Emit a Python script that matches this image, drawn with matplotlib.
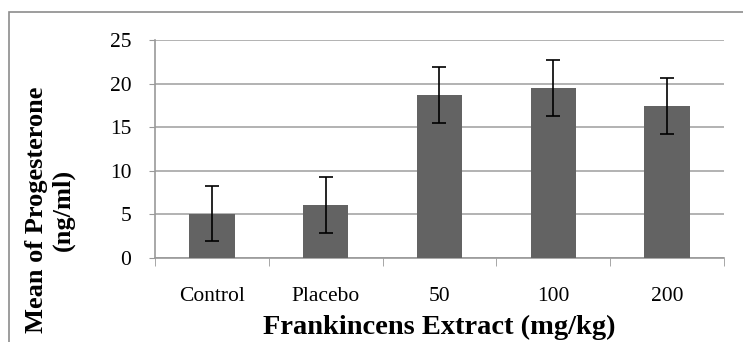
import matplotlib.pyplot as plt
from matplotlib.patches import Rectangle

plt.rcParams['font.family'] = ['Liberation Serif', 'DejaVu Serif']

groups = ["Control", "Placebo", "50", "100", "200"]
means = [5.1, 6.1, 18.7, 19.5, 17.4]
errors = [3.2, 3.2, 3.2, 3.2, 3.2]
y_ticks = [0, 5, 10, 15, 20, 25]

W, H = 743, 342
fig = plt.figure(figsize=(W / 100, H / 100), dpi=100)

# plot area in pixel coords of the reference
left, right, top, bottom = 155, 724, 40, 258
ax = fig.add_axes([left / W, 1 - bottom / H, (right - left) / W, (bottom - top) / H])

xs = list(range(len(groups)))
ax.bar(xs, means, width=0.4, color="#636363", zorder=3)
ax.errorbar(xs, means, yerr=errors, fmt="none", ecolor="black",
            elinewidth=1.2, capsize=5, capthick=1.2, zorder=4)

ax.set_xlim(-0.5, len(groups) - 0.5)
ax.set_ylim(0, 25)
ax.set_yticks(y_ticks)
ax.set_xticks(xs)
ax.set_xticklabels(groups)
ax.set_xticks([i - 0.5 for i in range(len(groups) + 1)], minor=True)
ax.tick_params(axis="x", which="major", length=0, pad=21, labelsize=15.5)
ax.tick_params(axis="x", which="minor", length=6, color="#999999", direction="out")
ax.tick_params(axis="y", length=4, color="#999999", pad=13, labelsize=15.5)

ax.grid(axis="y", color="#a6a6a6", linewidth=1.2, zorder=0)
for side in ["top", "right"]:
    ax.spines[side].set_visible(False)
for side in ["left", "bottom"]:
    ax.spines[side].set_color("#999999")
    ax.spines[side].set_linewidth(1.2)

fig.text(439 / W, 1 - 327 / H, "Frankincens Extract (mg/kg)", ha="center", va="center",
         fontsize=20.5, fontweight="bold")
fig.text(50 / W, 1 - 210 / H, "Mean of Progesterone\n(ng/ml)", ha="center", va="center",
         rotation=90, fontsize=19, fontweight="bold", multialignment="center",
         linespacing=1.15)

# outer chart border (clipped by the image edges)
fig.patches.append(Rectangle((9 / W, -0.1), 1.2, 1 - 11.5 / H + 0.1, transform=fig.transFigure,
                             fill=False, edgecolor="#8c8c8c", linewidth=1.2))

fig.savefig("out.png", dpi=100)
